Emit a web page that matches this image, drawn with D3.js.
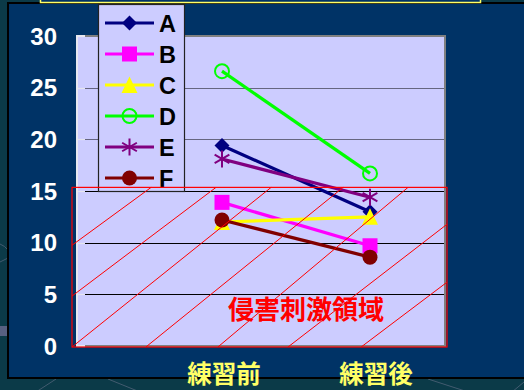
<!DOCTYPE html>
<html>
<head>
<meta charset="utf-8">
<script src="https://cdn.jsdelivr.net/npm/d3@7"></script>
<style>
  html, body { margin: 0; padding: 0; background: #0b3a48; overflow: hidden; }
  svg { display: block; }
</style>
</head>
<body>
<script>
// ---------- data ----------
const categories = ["練習前", "練習後"];
const seriesNames = ["A", "B", "C", "D", "E", "F"];
const valuesA = [19.4, 13.0];
const valuesB = [13.9, 9.7];
const valuesC = [12.0, 12.5];
const valuesD = [26.6, 16.7];
const valuesE = [18.1, 14.4];
const valuesF = [12.2, 8.6];
const yTicks = [0, 5, 10, 15, 20, 25, 30];
const regionLabel = "侵害刺激領域";
const regionTop = 15.35;   // upper bound of the hatched region (value units)

// ---------- styling ----------
const W = 524, H = 390;
const plot = { left: 77, right: 445, top: 36, bottom: 346 };
const seriesStyle = {
  A: { color: "#000080", shape: "diamond" },
  B: { color: "#ff00ff", shape: "square" },
  C: { color: "#ffff00", shape: "triangle" },
  D: { color: "#00ff00", shape: "openCircle" },
  E: { color: "#800080", shape: "asterisk" },
  F: { color: "#800000", shape: "circle" }
};
const seriesValues = { A: valuesA, B: valuesB, C: valuesC, D: valuesD, E: valuesE, F: valuesF };
// decorative hatch segments, as fractions of the hatched rectangle [x0,y0,x1,y1]
const hatch = [
  [0, 0.3625, 0.211, 0], [0, 0.681, 0.384, 0], [0, 1, 0.531, 0],
  [0.197, 1, 0.723, 0], [0.389, 1, 0.896, 0], [0.576, 1, 1, 0.231], [0.771, 1, 1, 0.594]
];

const svg = d3.select("body").append("svg").attr("width", W).attr("height", H);

// outer decorative background lines
const deco = svg.append("g").attr("stroke", "#5a6a80").attr("stroke-width", 1).attr("fill", "none").attr("opacity", 0.7);
deco.append("path").attr("d", "M36,392 L56,379");
deco.append("path").attr("d", "M108,379 L140,392");
deco.append("path").attr("d", "M428,379 L468,392");
deco.append("path").attr("d", "M512,392 L524,382");
deco.append("path").attr("d", "M0,244 Q5,246 8,250");
deco.append("path").attr("d", "M0,262 Q4,260 8,258");
svg.append("rect").attr("x", 0).attr("y", 326).attr("width", 8).attr("height", 10).attr("fill", "#6a6a90").attr("opacity", 0.8);

// panel
svg.append("rect").attr("x", 8).attr("y", 3).attr("width", 530).attr("height", 375)
  .attr("fill", "#003366").attr("stroke", "#000").attr("stroke-width", 2);
// top title box (mostly off-screen)
svg.append("rect").attr("x", 40.5).attr("y", -20).attr("width", 440).attr("height", 22.5)
  .attr("fill", "#003366").attr("stroke", "#ffff66").attr("stroke-width", 1.5);

// scales
const x = d3.scalePoint().domain(categories).range([222, 370]);
const y = d3.scaleLinear().domain([0, 30]).range([plot.bottom, plot.top]);

// plot area
svg.append("rect").attr("x", plot.left).attr("y", plot.top)
  .attr("width", plot.right - plot.left).attr("height", plot.bottom - plot.top)
  .attr("fill", "#ccccff");

// gridlines
const grid = svg.append("g");
grid.selectAll("line.g").data(yTicks.filter(t => t > 0 && t < 30)).join("line")
  .attr("x1", plot.left + 8).attr("x2", plot.right - 1)
  .attr("y1", d => Math.round(y(d)) + 0.5).attr("y2", d => Math.round(y(d)) + 0.5)
  .attr("stroke", d => d > 15 ? "#666680" : "#000").attr("stroke-width", 1.2);
grid.selectAll("line.t").data(yTicks).join("line")
  .attr("x1", plot.left).attr("x2", plot.left + 8)
  .attr("y1", d => Math.round(y(d)) + 0.5).attr("y2", d => Math.round(y(d)) + 0.5)
  .attr("stroke", "#e4e4ee").attr("stroke-width", 1.2);
// plot borders
svg.append("path")
  .attr("d", `M${plot.left + 8},${plot.top} H${plot.right} V${plot.bottom} H${plot.left + 8}`)
  .attr("fill", "none").attr("stroke", "#808080").attr("stroke-width", 2);
svg.append("path")
  .attr("d", `M${plot.left + 8},${plot.top} H${plot.left} V${plot.bottom} H${plot.left + 8}`)
  .attr("fill", "none").attr("stroke", "#e8e8f0").attr("stroke-width", 2);

// markers
function drawMarker(g, shape, color, cx, cy) {
  if (shape === "diamond") {
    g.append("path").attr("d", `M${cx},${cy - 7.5} L${cx + 7.5},${cy} L${cx},${cy + 7.5} L${cx - 7.5},${cy} Z`)
      .attr("fill", color);
  } else if (shape === "square") {
    g.append("rect").attr("x", cx - 7.5).attr("y", cy - 7.5).attr("width", 15).attr("height", 15).attr("fill", color);
  } else if (shape === "triangle") {
    g.append("path").attr("d", `M${cx},${cy - 8.5} L${cx + 8},${cy + 8} L${cx - 8},${cy + 8} Z`).attr("fill", color);
  } else if (shape === "openCircle") {
    g.append("circle").attr("cx", cx).attr("cy", cy).attr("r", 7).attr("fill", "none")
      .attr("stroke", color).attr("stroke-width", 2);
  } else if (shape === "asterisk") {
    const r = 8.5, s = r * Math.sin(Math.PI / 3), c = r * Math.cos(Math.PI / 3);
    g.append("path").attr("d", `M${cx},${cy - r} L${cx},${cy + r} M${cx - s},${cy - c} L${cx + s},${cy + c} M${cx - s},${cy + c} L${cx + s},${cy - c}`)
      .attr("stroke", color).attr("stroke-width", 2).attr("fill", "none");
  } else if (shape === "circle") {
    g.append("circle").attr("cx", cx).attr("cy", cy).attr("r", 7.5).attr("fill", color);
  }
}

const line = d3.line().x((d, i) => x(categories[i])).y(d => y(d));
const seriesG = svg.append("g");
seriesNames.forEach(name => {
  const st = seriesStyle[name];
  const vals = seriesValues[name];
  const g = seriesG.append("g");
  g.append("path").datum(vals).attr("d", line).attr("fill", "none")
    .attr("stroke", st.color).attr("stroke-width", 3.2);
  vals.forEach((v, i) => drawMarker(g, st.shape, st.color, x(categories[i]), y(v)));
});

// legend
const legend = svg.append("g");
const lg = { x: 98.5, y: 4.5, w: 86, h: 187, row0: 23, step: 31 };
legend.append("clipPath").attr("id", "lgclip").append("rect")
  .attr("x", lg.x).attr("y", lg.y).attr("width", lg.w).attr("height", lg.h);
legend.append("rect").attr("x", lg.x).attr("y", lg.y).attr("width", lg.w).attr("height", lg.h)
  .attr("fill", "#ccccff");
const lgItems = legend.append("g").attr("clip-path", "url(#lgclip)");
seriesNames.forEach((name, i) => {
  const st = seriesStyle[name];
  const cy = lg.row0 + i * lg.step;
  const g = lgItems.append("g");
  g.append("line").attr("x1", 105).attr("x2", 154).attr("y1", cy).attr("y2", cy)
    .attr("stroke", st.color).attr("stroke-width", 3.2);
  drawMarker(g, st.shape, st.color, 129.5, cy);
  g.append("text").attr("x", 159).attr("y", cy).attr("dy", "0.37em")
    .attr("font-family", "'Liberation Sans', Arial, sans-serif").attr("font-weight", "bold")
    .attr("font-size", 23.5).attr("fill", "#000").text(name);
});
legend.append("rect").attr("x", lg.x).attr("y", lg.y).attr("width", lg.w).attr("height", lg.h)
  .attr("fill", "none").attr("stroke", "#222").attr("stroke-width", 1.2);

// hatched region
const hr = { x0: plot.left - 5, x1: plot.right + 2, y0: y(regionTop), y1: y(0) + 1 };
const hw = hr.x1 - hr.x0, hh = hr.y1 - hr.y0;
const hg = svg.append("g");
hg.selectAll("line").data(hatch).join("line")
  .attr("x1", d => hr.x0 + d[0] * hw).attr("y1", d => hr.y0 + d[1] * hh)
  .attr("x2", d => hr.x0 + d[2] * hw).attr("y2", d => hr.y0 + d[3] * hh)
  .attr("stroke", "#ff0000").attr("stroke-width", 1);
hg.append("rect").attr("x", hr.x0).attr("y", hr.y0).attr("width", hw).attr("height", hh)
  .attr("fill", "none").attr("stroke", "#ff0000").attr("stroke-width", 1.2);
hg.append("text").attr("x", 306).attr("y", 307).attr("dominant-baseline", "central")
  .attr("text-anchor", "middle").attr("font-family", "'Noto Sans CJK JP', sans-serif")
  .attr("font-weight", "bold").attr("font-size", 26).attr("fill", "#ff0000").text(regionLabel);

// y labels
svg.append("g").selectAll("text").data(yTicks).join("text")
  .attr("x", 57).attr("y", d => y(d)).attr("dy", "0.36em").attr("text-anchor", "end")
  .attr("font-family", "'Liberation Sans', Arial, sans-serif").attr("font-weight", "bold")
  .attr("font-size", 24).attr("fill", "#ffffff").text(d => d);

// x labels
svg.append("g").selectAll("text").data(categories).join("text")
  .attr("x", (d, i) => x(d) + (i === 0 ? 2 : 6)).attr("y", 372.5).attr("dominant-baseline", "central")
  .attr("text-anchor", "middle").attr("font-family", "'Noto Sans CJK JP', sans-serif")
  .attr("font-weight", "bold").attr("font-size", 24.5).attr("fill", "#ffff66").text(d => d);
</script>
</body>
</html>
